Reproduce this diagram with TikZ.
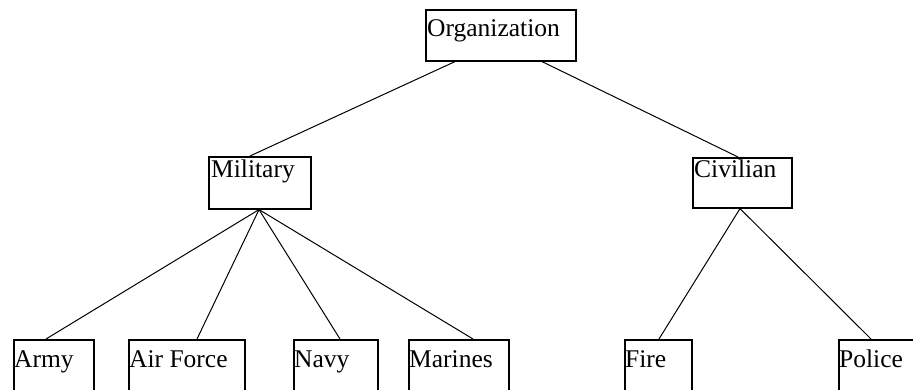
\documentclass[tikz,border=0pt]{standalone}
\usepackage{fontspec}
\setmainfont{Liberation Serif}
\usetikzlibrary{calc}
\begin{document}
\begin{tikzpicture}[x=1pt,y=-1pt,
  box/.style={draw=black,line width=1.6pt,inner sep=0pt,anchor=north west},
  lbl/.style={anchor=base west,inner sep=0pt,font=\fontsize{25.5}{29}\selectfont},
  conn/.style={draw=black,line width=1pt}]
\useasboundingbox (0,0) rectangle (913,390);
\clip (0,0) rectangle (913,390);
% boxes
\node[box,minimum width=150pt,minimum height=51pt] (org) at (425,9) {};
\node[box,minimum width=102pt,minimum height=52pt] (mil) at (208,156) {};
\node[box,minimum width=99pt,minimum height=50pt] (civ) at (692,157) {};
\node[box,minimum width=80pt,minimum height=70pt] (army) at (13,339) {};
\node[box,minimum width=116pt,minimum height=70pt] (air) at (128,339) {};
\node[box,minimum width=84pt,minimum height=70pt] (navy) at (293,339) {};
\node[box,minimum width=100pt,minimum height=70pt] (mar) at (408,339) {};
\node[box,minimum width=67pt,minimum height=70pt] (fire) at (624,339) {};
\node[box,minimum width=100pt,minimum height=70pt] (pol) at (838,339) {};
% labels
\node[lbl] (orgt) at (427,37) {Organization};
\node[lbl] (milt) at (211,178) {Military};
\node[lbl] (civt) at (694,178) {Civilian};
\node[lbl] (armyt) at (14,367) {Army};
\node[lbl] (airt) at (129,367) {Air Force};
\node[lbl] (navyt) at (294,367) {Navy};
\node[lbl] (mart) at (409,367) {Marines};
\node[lbl] (firet) at (625,367) {Fire};
\node[lbl] (polt) at (839,367) {Police};
% connectors
\draw[conn] ($(org.south west)+(30,0)$) -- ($(mil.north west)+(42,0)$);
\draw[conn] ($(org.south west)+(117,0)$) -- ($(civ.north west)+(46,0)$);
\draw[conn] ($(mil.south west)+(51,0)$) -- ($(army.north west)+(33,0)$);
\draw[conn] ($(mil.south west)+(51,0)$) -- ($(air.north west)+(69,0)$);
\draw[conn] ($(mil.south west)+(51,0)$) -- ($(navy.north west)+(47,0)$);
\draw[conn] ($(mil.south west)+(51,0)$) -- ($(mar.north west)+(65,0)$);
\draw[conn] ($(civ.south west)+(48,0)$) -- ($(fire.north west)+(35,0)$);
\draw[conn] ($(civ.south west)+(48,0)$) -- ($(pol.north west)+(33,0)$);
\end{tikzpicture}
\end{document}
